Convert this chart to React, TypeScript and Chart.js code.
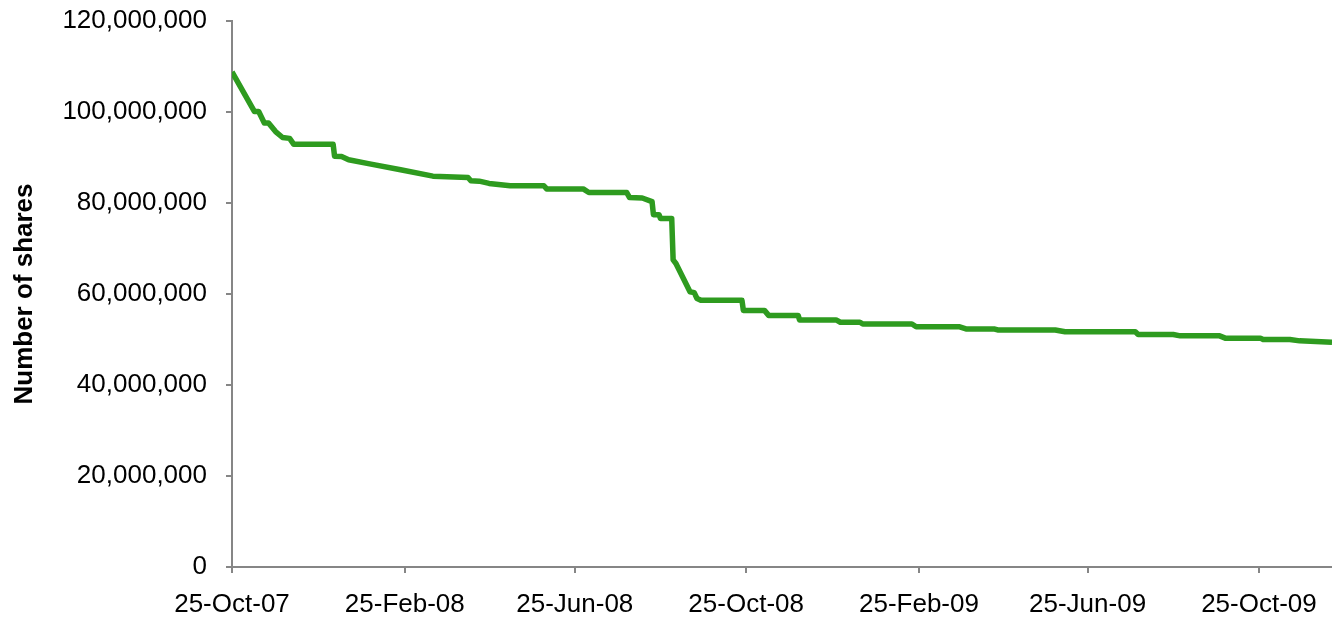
import React, { useEffect, useRef } from "react";
import { Chart, registerables } from "chart.js";

Chart.register(...registerables);

// Dates of observations (ISO) and number of shares outstanding
const dates: string[] = [
  "2007-10-25", "2007-11-10", "2007-11-13", "2007-11-17", "2007-11-20", "2007-11-25",
  "2007-11-30", "2007-12-05", "2007-12-08", "2008-01-05", "2008-01-06", "2008-01-11",
  "2008-01-16", "2008-01-31", "2008-02-22", "2008-03-16", "2008-04-10", "2008-04-12",
  "2008-04-18", "2008-04-25", "2008-05-10", "2008-06-03", "2008-06-05", "2008-07-01",
  "2008-07-05", "2008-08-01", "2008-08-03", "2008-08-12", "2008-08-19", "2008-08-20",
  "2008-08-24", "2008-08-25", "2008-09-02", "2008-09-03", "2008-09-05", "2008-09-15",
  "2008-09-18", "2008-09-20", "2008-09-23", "2008-10-22", "2008-10-23", "2008-11-07",
  "2008-11-10", "2008-12-01", "2008-12-02", "2008-12-28", "2008-12-31", "2009-01-14",
  "2009-01-16", "2009-02-20", "2009-02-23", "2009-03-26", "2009-03-31", "2009-04-20",
  "2009-04-22", "2009-06-02", "2009-06-09", "2009-07-29", "2009-07-31", "2009-08-25",
  "2009-08-30", "2009-09-27", "2009-10-01", "2009-10-26", "2009-10-28", "2009-11-16",
  "2009-11-23", "2009-12-16",
];

const shares: number[] = [
  108800000, 100100000, 100100000, 97600000, 97600000, 95700000,
  94400000, 94200000, 92900000, 92900000, 90300000, 90200000,
  89500000, 88600000, 87300000, 85900000, 85600000, 84900000,
  84800000, 84300000, 83800000, 83800000, 83100000, 83100000,
  82300000, 82300000, 81200000, 81100000, 80300000, 77400000,
  77400000, 76600000, 76600000, 67500000, 66700000, 60500000,
  60300000, 59000000, 58600000, 58600000, 56400000, 56400000,
  55300000, 55300000, 54300000, 54300000, 53800000, 53800000,
  53400000, 53400000, 52800000, 52800000, 52300000, 52300000,
  52100000, 52100000, 51700000, 51700000, 51100000, 51100000,
  50800000, 50800000, 50300000, 50300000, 50000000, 50000000,
  49700000, 49400000,
];

const tickDates: string[] = [
  "2007-10-25", "2008-02-25", "2008-06-25", "2008-10-25",
  "2009-02-25", "2009-06-25", "2009-10-25",
];

const yTicks: number[] = [0, 20000000, 40000000, 60000000, 80000000, 100000000, 120000000];

const MONTHS = ["Jan", "Feb", "Mar", "Apr", "May", "Jun", "Jul", "Aug", "Sep", "Oct", "Nov", "Dec"];
const BASE = Date.parse(dates[0]);
const DAY = 86400000;
const dayOf = (s: string) => Math.round((Date.parse(s) - BASE) / DAY);
const labelOf = (d: number) => {
  const dt = new Date(BASE + d * DAY);
  const dd = String(dt.getUTCDate()).padStart(2, "0");
  const yy = String(dt.getUTCFullYear() % 100).padStart(2, "0");
  return `${dd}-${MONTHS[dt.getUTCMonth()]}-${yy}`;
};

const FONT = "'Liberation Sans', Arial, sans-serif";
const AXIS = "#868686";

export default function App() {
  const ref = useRef<HTMLCanvasElement | null>(null);

  useEffect(() => {
    if (!ref.current) return;
    const points = dates.map((d, i) => ({ x: dayOf(d), y: shares[i] }));
    const chart = new Chart(ref.current, {
      type: "line",
      data: {
        datasets: [
          {
            data: points,
            borderColor: "#2E9B1F",
            borderWidth: 5.5,
            pointRadius: 0,
            tension: 0,
            borderJoinStyle: "round",
            borderCapStyle: "butt",
            fill: false,
          },
        ],
      },
      options: {
        animation: false,
        responsive: false,
        layout: { padding: { top: 21, right: 0, bottom: 0, left: 0 } },
        plugins: { legend: { display: false }, tooltip: { enabled: false } },
        scales: {
          x: {
            type: "linear",
            min: 0,
            max: dayOf(dates[dates.length - 1]),
            afterBuildTicks: (scale: any) => {
              scale.ticks = tickDates.map((d) => ({ value: dayOf(d) }));
            },
            afterFit: (scale: any) => {
              scale.height = 50;
              scale.paddingLeft = 0;
              scale.paddingRight = 0;
            },
            grid: {
              drawOnChartArea: false,
              drawTicks: true,
              tickLength: 6,
              color: AXIS,
              lineWidth: 2,
            },
            border: { color: AXIS, width: 2 },
            ticks: {
              padding: 16,
              maxRotation: 0,
              autoSkip: false,
              color: "#000",
              font: { family: FONT, size: 26 },
              callback: (v: any) => labelOf(Number(v)),
            },
          },
          y: {
            min: 0,
            max: 120000000,
            afterBuildTicks: (scale: any) => {
              scale.ticks = yTicks.map((v) => ({ value: v }));
            },
            afterFit: (scale: any) => {
              scale.width = 232;
              scale.paddingTop = 0;
              scale.paddingBottom = 0;
            },
            grid: {
              drawOnChartArea: false,
              drawTicks: true,
              tickLength: 6,
              color: AXIS,
              lineWidth: 2,
            },
            border: { color: AXIS, width: 2 },
            ticks: {
              padding: 19,
              color: "#000",
              font: { family: FONT, size: 26 },
              callback: (v: any) => Number(v).toLocaleString("en-US"),
            },
            title: {
              display: true,
              text: "Number of shares",
              color: "#000",
              font: { family: FONT, size: 26, weight: "bold" },
              padding: { top: 9, bottom: 0 },
            },
          },
        },
      },
    });
    return () => chart.destroy();
  }, []);

  return (
    <div style={{ position: "fixed", left: 0, top: 0, width: 1332, height: 617, background: "#fff" }}>
      <canvas ref={ref} width={1332} height={617} style={{ display: "block" }} />
    </div>
  );
}
